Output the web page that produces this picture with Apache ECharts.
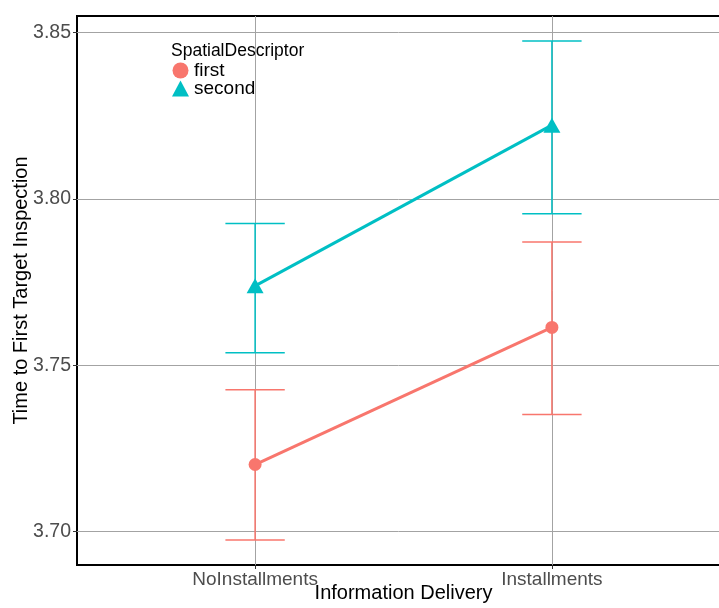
<!DOCTYPE html>
<html><head><meta charset="utf-8">
<script src="https://cdn.jsdelivr.net/npm/echarts@6/dist/echarts.min.js"></script>
<style>html,body{margin:0;padding:0;background:#fff}#c{width:719px;height:608px}</style>
</head><body><div id="c"></div>
<script>
const categories = ['NoInstallments', 'Installments'];
const seriesNames = ['first', 'second'];
const firstMean = [3.7202, 3.7614];
const firstLow = [3.6975, 3.7352];
const firstHigh = [3.7427, 3.7871];
const secondMean = [3.7739, 3.8222];
const secondLow = [3.7538, 3.7956];
const secondHigh = [3.7926, 3.8475];
const yTicks = [3.70, 3.75, 3.80, 3.85];
const colors = ['#F8766D', '#00BFC4'];

const FONT = '"Liberation Sans", Arial, Helvetica, sans-serif';
const xPos = categories.map((c, i) => i + 1);

function errSeries(name, low, high, color) {
  return {
    type: 'custom', name: name + '_err', z: 3, silent: true,
    data: xPos.map((x, i) => [x, low[i], high[i]]),
    renderItem: function (params, api) {
      const x = api.value(0), lo = api.value(1), hi = api.value(2);
      const pLo = api.coord([x, lo]), pHi = api.coord([x, hi]);
      const hw = api.size([0.1, 0])[0];
      const st = { stroke: color, lineWidth: 1.5, fill: null };
      return { type: 'group', children: [
        { type: 'line', shape: { x1: pLo[0], y1: pLo[1], x2: pHi[0], y2: pHi[1] }, style: st },
        { type: 'line', shape: { x1: pLo[0] - hw, y1: pLo[1], x2: pLo[0] + hw, y2: pLo[1] }, style: st },
        { type: 'line', shape: { x1: pHi[0] - hw, y1: pHi[1], x2: pHi[0] + hw, y2: pHi[1] }, style: st }
      ]};
    }
  };
}

const gridLine = { color: '#a3a3a3', width: 1, type: 'solid' };

const chart = echarts.init(document.getElementById('c'), null, { renderer: 'canvas' });
chart.setOption({
  animation: false,
  backgroundColor: '#ffffff',
  textStyle: { fontFamily: FONT },
  title: {
    text: 'SpatialDescriptor', left: 171, top: 42, padding: 0,
    textStyle: { fontFamily: FONT, fontSize: 17.5, fontWeight: 'normal', color: '#000' }
  },
  legend: {
    orient: 'vertical', left: 172, top: 61, padding: 0, itemGap: -1,
    itemWidth: 17, itemHeight: 16,
    textStyle: { fontFamily: FONT, fontSize: 19, color: '#000' },
    data: [{ name: seriesNames[0], icon: 'circle' }, { name: seriesNames[1], icon: 'triangle' }]
  },
  grid: {
    left: 77, top: 16, width: 653, height: 549,
    containLabel: false, outerBoundsMode: 'none',
    show: true, borderColor: '#000', borderWidth: 2, backgroundColor: 'transparent'
  },
  xAxis: {
    type: 'value', min: 0.4, max: 2.6,
    name: 'Information Delivery', nameLocation: 'middle', nameGap: 18, nameMoveOverlap: false,
    nameTextStyle: { fontFamily: FONT, fontSize: 20, color: '#000' },
    axisLine: { show: false },
    splitLine: { show: false },
    axisTick: { show: true, customValues: xPos, length: 4, lineStyle: { color: '#333' } },
    axisLabel: {
      customValues: xPos, margin: 5,
      fontFamily: FONT, fontSize: 19, color: '#4d4d4d',
      formatter: v => categories[Math.round(v) - 1] || ''
    }
  },
  yAxis: {
    type: 'value', min: 3.690, max: 3.855,
    name: 'Time to First Target Inspection', nameLocation: 'middle', nameGap: 46, nameMoveOverlap: false,
    nameTextStyle: { fontFamily: FONT, fontSize: 20, color: '#000' },
    axisLine: { show: false },
    splitLine: { show: false },
    axisTick: { show: true, customValues: yTicks, length: 4, lineStyle: { color: '#333' } },
    axisLabel: {
      customValues: yTicks, margin: 6,
      fontFamily: FONT, fontSize: 19.5, color: '#4d4d4d',
      formatter: v => v.toFixed(2)
    }
  },
  series: [
    {
      type: 'line', name: 'grid', data: [], z: 1, silent: true,
      markLine: {
        z: 1, silent: true, symbol: ['none', 'none'], label: { show: false },
        lineStyle: gridLine, animation: false,
        data: yTicks.map(v => ({ yAxis: v })).concat(xPos.map(v => ({ xAxis: v })))
      }
    },
    errSeries(seriesNames[0], firstLow, firstHigh, colors[0]),
    errSeries(seriesNames[1], secondLow, secondHigh, colors[1]),
    {
      type: 'line', name: seriesNames[0], z: 4,
      data: xPos.map((x, i) => [x, firstMean[i]]),
      symbol: 'circle', symbolSize: 13,
      lineStyle: { color: colors[0], width: 3 },
      itemStyle: { color: colors[0] }
    },
    {
      type: 'line', name: seriesNames[1], z: 4,
      data: xPos.map((x, i) => [x, secondMean[i]]),
      symbol: 'triangle', symbolSize: [17, 15],
      lineStyle: { color: colors[1], width: 3 },
      itemStyle: { color: colors[1] }
    }
  ]
});
</script>
</body></html>
